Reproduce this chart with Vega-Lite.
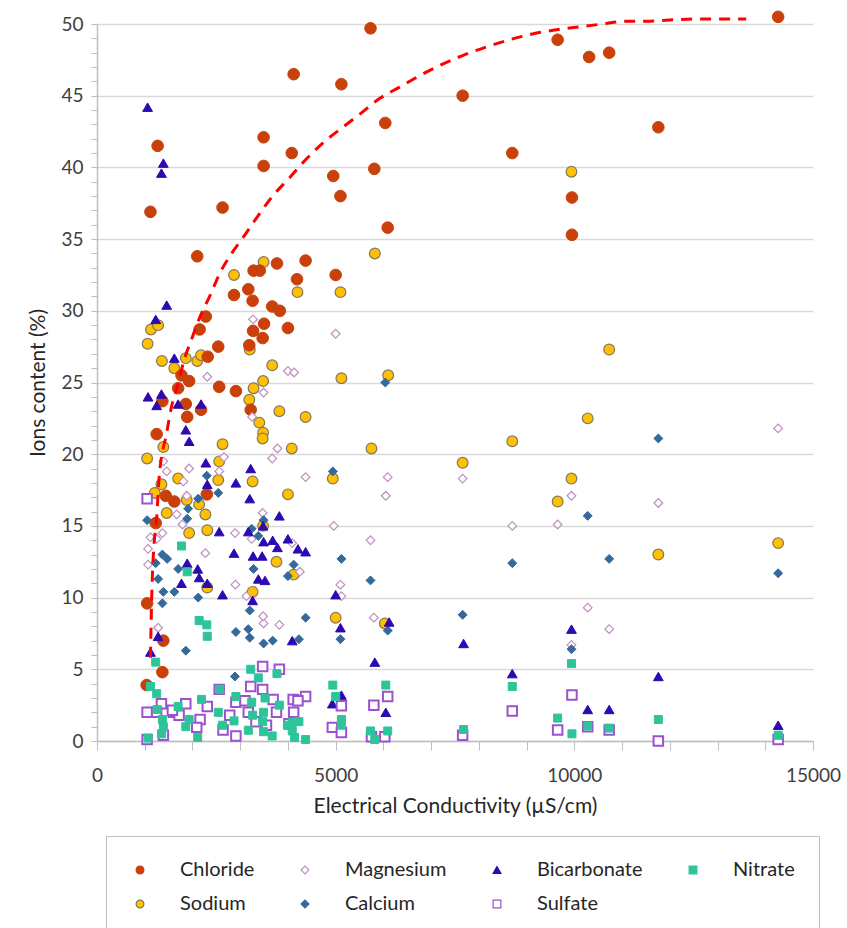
{
"$schema": "https://vega.github.io/schema/vega-lite/v6.json",
"autosize": {"type": "none"},
"width": 716, "height": 717,
"padding": {"left": 97, "top": 24, "right": 34, "bottom": 187},
"background": "white",
"config": {"font": "Lato", "view": {"stroke": null},
 "legend": {"orient": "none", "legendX": 9, "legendY": 812, "direction": "horizontal", "columns": 4, "strokeColor": "#BFBFBF", "padding": 24, "labelFontSize": 20, "labelColor": "#262626", "labelOffset": 30, "columnPadding": 40, "rowPadding": 14, "symbolSize": 60, "symbolStrokeWidth": 1.2, "labelLimit": 300}},
"datasets": {
"points": [
{"ion":"Sodium","ec":3490,"pct":33.4},{"ion":"Sodium","ec":2870,"pct":32.5},{"ion":"Sodium","ec":4200,"pct":31.3},{"ion":"Sodium","ec":1130,"pct":28.7},{"ion":"Sodium","ec":1280,"pct":29.0},{"ion":"Sodium","ec":1060,"pct":27.7},{"ion":"Sodium","ec":3200,"pct":27.3},{"ion":"Sodium","ec":1360,"pct":26.5},{"ion":"Sodium","ec":1860,"pct":26.7},{"ion":"Sodium","ec":2100,"pct":26.5},{"ion":"Sodium","ec":2180,"pct":26.9},{"ion":"Sodium","ec":1620,"pct":26.0},{"ion":"Sodium","ec":3670,"pct":26.2},{"ion":"Sodium","ec":3480,"pct":25.1},{"ion":"Sodium","ec":3280,"pct":24.6},{"ion":"Sodium","ec":3190,"pct":23.8},{"ion":"Sodium","ec":3820,"pct":23.0},{"ion":"Sodium","ec":3400,"pct":22.2},{"ion":"Sodium","ec":3480,"pct":21.5},{"ion":"Sodium","ec":3470,"pct":21.1},{"ion":"Sodium","ec":1390,"pct":20.5},{"ion":"Sodium","ec":2630,"pct":20.7},{"ion":"Sodium","ec":4080,"pct":20.4},{"ion":"Sodium","ec":1050,"pct":19.7},{"ion":"Sodium","ec":2560,"pct":19.5},{"ion":"Sodium","ec":1700,"pct":18.3},{"ion":"Sodium","ec":1350,"pct":17.9},{"ion":"Sodium","ec":2540,"pct":18.2},{"ion":"Sodium","ec":3260,"pct":18.1},{"ion":"Sodium","ec":4000,"pct":17.2},{"ion":"Sodium","ec":5820,"pct":34.0},{"ion":"Sodium","ec":5100,"pct":31.3},{"ion":"Sodium","ec":5120,"pct":25.3},{"ion":"Sodium","ec":6100,"pct":25.5},{"ion":"Sodium","ec":4370,"pct":22.6},{"ion":"Sodium","ec":5750,"pct":20.4},{"ion":"Sodium","ec":4940,"pct":18.3},{"ion":"Sodium","ec":9940,"pct":39.7},{"ion":"Sodium","ec":10280,"pct":22.5},{"ion":"Sodium","ec":8700,"pct":20.9},{"ion":"Sodium","ec":7660,"pct":19.4},{"ion":"Sodium","ec":9940,"pct":18.3},{"ion":"Sodium","ec":9650,"pct":16.7},{"ion":"Sodium","ec":5000,"pct":8.6},{"ion":"Sodium","ec":6030,"pct":8.2},{"ion":"Sodium","ec":11760,"pct":13.0},{"ion":"Sodium","ec":14270,"pct":13.8},{"ion":"Sodium","ec":10730,"pct":27.3},{"ion":"Sodium","ec":1210,"pct":17.3},{"ion":"Sodium","ec":1880,"pct":16.8},{"ion":"Sodium","ec":2140,"pct":16.5},{"ion":"Sodium","ec":1460,"pct":15.9},{"ion":"Sodium","ec":2270,"pct":15.8},{"ion":"Sodium","ec":1930,"pct":14.5},{"ion":"Sodium","ec":2310,"pct":14.7},{"ion":"Sodium","ec":3760,"pct":12.5},{"ion":"Sodium","ec":4120,"pct":11.6},{"ion":"Sodium","ec":2310,"pct":10.7},{"ion":"Sodium","ec":3260,"pct":10.4},{"ion":"Sodium","ec":3480,"pct":15.0},
{"ion":"Chloride","ec":1270,"pct":41.5},{"ion":"Chloride","ec":1120,"pct":36.9},{"ion":"Chloride","ec":4120,"pct":46.5},{"ion":"Chloride","ec":5120,"pct":45.8},{"ion":"Chloride","ec":3490,"pct":42.1},{"ion":"Chloride","ec":3490,"pct":40.1},{"ion":"Chloride","ec":4080,"pct":41.0},{"ion":"Chloride","ec":4950,"pct":39.4},{"ion":"Chloride","ec":5100,"pct":38.0},{"ion":"Chloride","ec":2630,"pct":37.2},{"ion":"Chloride","ec":2100,"pct":33.8},{"ion":"Chloride","ec":4370,"pct":33.5},{"ion":"Chloride","ec":5730,"pct":49.7},{"ion":"Chloride","ec":7660,"pct":45.0},{"ion":"Chloride","ec":6040,"pct":43.1},{"ion":"Chloride","ec":8700,"pct":41.0},{"ion":"Chloride","ec":5810,"pct":39.9},{"ion":"Chloride","ec":6090,"pct":35.8},{"ion":"Chloride","ec":9650,"pct":48.9},{"ion":"Chloride","ec":10310,"pct":47.7},{"ion":"Chloride","ec":10730,"pct":48.0},{"ion":"Chloride","ec":9950,"pct":37.9},{"ion":"Chloride","ec":9950,"pct":35.3},{"ion":"Chloride","ec":5000,"pct":32.5},{"ion":"Chloride","ec":11760,"pct":42.8},{"ion":"Chloride","ec":14270,"pct":50.5},{"ion":"Chloride","ec":3770,"pct":33.3},{"ion":"Chloride","ec":3280,"pct":32.8},{"ion":"Chloride","ec":3410,"pct":32.8},{"ion":"Chloride","ec":4190,"pct":32.2},{"ion":"Chloride","ec":3170,"pct":31.5},{"ion":"Chloride","ec":2870,"pct":31.1},{"ion":"Chloride","ec":3260,"pct":30.7},{"ion":"Chloride","ec":3670,"pct":30.3},{"ion":"Chloride","ec":3830,"pct":30.0},{"ion":"Chloride","ec":2280,"pct":29.6},{"ion":"Chloride","ec":3500,"pct":29.1},{"ion":"Chloride","ec":4000,"pct":28.8},{"ion":"Chloride","ec":2150,"pct":28.7},{"ion":"Chloride","ec":3270,"pct":28.6},{"ion":"Chloride","ec":3470,"pct":28.1},{"ion":"Chloride","ec":3190,"pct":27.6},{"ion":"Chloride","ec":2540,"pct":27.5},{"ion":"Chloride","ec":2320,"pct":26.8},{"ion":"Chloride","ec":1770,"pct":25.5},{"ion":"Chloride","ec":1930,"pct":25.1},{"ion":"Chloride","ec":1700,"pct":24.6},{"ion":"Chloride","ec":2560,"pct":24.7},{"ion":"Chloride","ec":2910,"pct":24.4},{"ion":"Chloride","ec":1370,"pct":23.7},{"ion":"Chloride","ec":1860,"pct":23.5},{"ion":"Chloride","ec":2180,"pct":23.1},{"ion":"Chloride","ec":3220,"pct":23.1},{"ion":"Chloride","ec":1890,"pct":22.6},{"ion":"Chloride","ec":1250,"pct":21.4},{"ion":"Chloride","ec":1440,"pct":17.1},{"ion":"Chloride","ec":1620,"pct":16.7},{"ion":"Chloride","ec":2300,"pct":17.2},{"ion":"Chloride","ec":1230,"pct":15.2},{"ion":"Chloride","ec":1050,"pct":9.6},{"ion":"Chloride","ec":1390,"pct":7.0},{"ion":"Chloride","ec":1370,"pct":4.8},{"ion":"Chloride","ec":1040,"pct":3.9},
{"ion":"Magnesium","ec":3270,"pct":29.4},{"ion":"Magnesium","ec":2310,"pct":25.4},{"ion":"Magnesium","ec":4000,"pct":25.8},{"ion":"Magnesium","ec":4130,"pct":25.7},{"ion":"Magnesium","ec":3490,"pct":24.3},{"ion":"Magnesium","ec":3250,"pct":22.6},{"ion":"Magnesium","ec":3780,"pct":20.4},{"ion":"Magnesium","ec":3670,"pct":19.7},{"ion":"Magnesium","ec":1390,"pct":19.5},{"ion":"Magnesium","ec":1460,"pct":18.8},{"ion":"Magnesium","ec":1930,"pct":19.0},{"ion":"Magnesium","ec":2560,"pct":18.8},{"ion":"Magnesium","ec":2660,"pct":19.8},{"ion":"Magnesium","ec":1810,"pct":18.1},{"ion":"Magnesium","ec":5000,"pct":28.4},{"ion":"Magnesium","ec":4370,"pct":18.4},{"ion":"Magnesium","ec":6090,"pct":18.4},{"ion":"Magnesium","ec":6050,"pct":17.1},{"ion":"Magnesium","ec":7660,"pct":18.3},{"ion":"Magnesium","ec":9940,"pct":17.1},{"ion":"Magnesium","ec":4960,"pct":15.0},{"ion":"Magnesium","ec":8700,"pct":15.0},{"ion":"Magnesium","ec":9650,"pct":15.1},{"ion":"Magnesium","ec":5730,"pct":14.0},{"ion":"Magnesium","ec":5100,"pct":10.9},{"ion":"Magnesium","ec":5120,"pct":10.1},{"ion":"Magnesium","ec":5800,"pct":8.6},{"ion":"Magnesium","ec":10280,"pct":9.3},{"ion":"Magnesium","ec":9940,"pct":6.7},{"ion":"Magnesium","ec":14270,"pct":21.8},{"ion":"Magnesium","ec":11760,"pct":16.6},{"ion":"Magnesium","ec":10730,"pct":7.8},{"ion":"Magnesium","ec":4090,"pct":13.8},{"ion":"Magnesium","ec":4250,"pct":11.8},{"ion":"Magnesium","ec":1880,"pct":17.1},{"ion":"Magnesium","ec":3470,"pct":15.9},{"ion":"Magnesium","ec":1370,"pct":14.5},{"ion":"Magnesium","ec":1120,"pct":14.2},{"ion":"Magnesium","ec":1250,"pct":14.1},{"ion":"Magnesium","ec":1670,"pct":15.8},{"ion":"Magnesium","ec":1790,"pct":15.1},{"ion":"Magnesium","ec":2890,"pct":14.5},{"ion":"Magnesium","ec":3240,"pct":14.1},{"ion":"Magnesium","ec":1070,"pct":13.4},{"ion":"Magnesium","ec":2270,"pct":13.1},{"ion":"Magnesium","ec":1070,"pct":12.3},{"ion":"Magnesium","ec":2900,"pct":10.9},{"ion":"Magnesium","ec":3130,"pct":10.1},{"ion":"Magnesium","ec":3490,"pct":8.2},{"ion":"Magnesium","ec":3820,"pct":8.1},{"ion":"Magnesium","ec":1280,"pct":7.9},{"ion":"Magnesium","ec":3480,"pct":8.7},
{"ion":"Calcium","ec":4940,"pct":18.8},{"ion":"Calcium","ec":6040,"pct":25.0},{"ion":"Calcium","ec":10280,"pct":15.7},{"ion":"Calcium","ec":5120,"pct":12.7},{"ion":"Calcium","ec":5730,"pct":11.2},{"ion":"Calcium","ec":8700,"pct":12.4},{"ion":"Calcium","ec":7660,"pct":8.8},{"ion":"Calcium","ec":5100,"pct":7.1},{"ion":"Calcium","ec":6090,"pct":7.7},{"ion":"Calcium","ec":9940,"pct":6.4},{"ion":"Calcium","ec":11760,"pct":21.1},{"ion":"Calcium","ec":10730,"pct":12.7},{"ion":"Calcium","ec":14270,"pct":11.7},{"ion":"Calcium","ec":4120,"pct":12.3},{"ion":"Calcium","ec":4370,"pct":8.6},{"ion":"Calcium","ec":4230,"pct":7.1},{"ion":"Calcium","ec":2540,"pct":17.3},{"ion":"Calcium","ec":1050,"pct":15.4},{"ion":"Calcium","ec":1910,"pct":16.2},{"ion":"Calcium","ec":1890,"pct":15.5},{"ion":"Calcium","ec":1370,"pct":13.0},{"ion":"Calcium","ec":1470,"pct":12.7},{"ion":"Calcium","ec":1230,"pct":12.4},{"ion":"Calcium","ec":1280,"pct":11.3},{"ion":"Calcium","ec":1700,"pct":12.0},{"ion":"Calcium","ec":1390,"pct":10.4},{"ion":"Calcium","ec":1620,"pct":10.4},{"ion":"Calcium","ec":1370,"pct":9.6},{"ion":"Calcium","ec":2120,"pct":10.0},{"ion":"Calcium","ec":3200,"pct":9.1},{"ion":"Calcium","ec":2910,"pct":7.6},{"ion":"Calcium","ec":3170,"pct":7.8},{"ion":"Calcium","ec":3200,"pct":7.2},{"ion":"Calcium","ec":3490,"pct":6.8},{"ion":"Calcium","ec":3680,"pct":7.0},{"ion":"Calcium","ec":1860,"pct":6.3},{"ion":"Calcium","ec":2890,"pct":4.5},{"ion":"Calcium","ec":3280,"pct":12.0},{"ion":"Calcium","ec":4000,"pct":11.5},{"ion":"Calcium","ec":3380,"pct":14.3},{"ion":"Calcium","ec":3240,"pct":14.8},{"ion":"Calcium","ec":3490,"pct":15.4},{"ion":"Calcium","ec":2300,"pct":18.5},{"ion":"Calcium","ec":2120,"pct":16.9},
{"ion":"Bicarbonate","ec":1060,"pct":44.2},{"ion":"Bicarbonate","ec":1390,"pct":40.3},{"ion":"Bicarbonate","ec":1350,"pct":39.6},{"ion":"Bicarbonate","ec":1460,"pct":30.4},{"ion":"Bicarbonate","ec":1230,"pct":29.4},{"ion":"Bicarbonate","ec":1620,"pct":26.7},{"ion":"Bicarbonate","ec":1070,"pct":24.0},{"ion":"Bicarbonate","ec":1350,"pct":24.2},{"ion":"Bicarbonate","ec":1250,"pct":23.4},{"ion":"Bicarbonate","ec":1700,"pct":23.5},{"ion":"Bicarbonate","ec":2180,"pct":23.5},{"ion":"Bicarbonate","ec":1860,"pct":21.7},{"ion":"Bicarbonate","ec":1930,"pct":20.9},{"ion":"Bicarbonate","ec":2280,"pct":19.4},{"ion":"Bicarbonate","ec":3220,"pct":19.0},{"ion":"Bicarbonate","ec":2310,"pct":17.9},{"ion":"Bicarbonate","ec":2910,"pct":18.0},{"ion":"Bicarbonate","ec":3200,"pct":16.9},{"ion":"Bicarbonate","ec":3820,"pct":15.7},{"ion":"Bicarbonate","ec":3480,"pct":15.0},{"ion":"Bicarbonate","ec":2560,"pct":14.6},{"ion":"Bicarbonate","ec":3170,"pct":14.6},{"ion":"Bicarbonate","ec":3490,"pct":13.9},{"ion":"Bicarbonate","ec":3680,"pct":14.0},{"ion":"Bicarbonate","ec":4000,"pct":14.1},{"ion":"Bicarbonate","ec":3780,"pct":13.5},{"ion":"Bicarbonate","ec":2870,"pct":13.1},{"ion":"Bicarbonate","ec":3270,"pct":12.9},{"ion":"Bicarbonate","ec":3460,"pct":12.9},{"ion":"Bicarbonate","ec":1890,"pct":12.4},{"ion":"Bicarbonate","ec":2110,"pct":12.0},{"ion":"Bicarbonate","ec":2140,"pct":11.4},{"ion":"Bicarbonate","ec":1770,"pct":11.0},{"ion":"Bicarbonate","ec":2310,"pct":11.0},{"ion":"Bicarbonate","ec":3380,"pct":11.3},{"ion":"Bicarbonate","ec":3520,"pct":11.2},{"ion":"Bicarbonate","ec":2630,"pct":10.2},{"ion":"Bicarbonate","ec":3260,"pct":9.8},{"ion":"Bicarbonate","ec":1280,"pct":7.3},{"ion":"Bicarbonate","ec":1120,"pct":6.2},{"ion":"Bicarbonate","ec":4090,"pct":7.0},{"ion":"Bicarbonate","ec":4210,"pct":13.4},{"ion":"Bicarbonate","ec":4370,"pct":13.2},{"ion":"Bicarbonate","ec":5000,"pct":10.2},{"ion":"Bicarbonate","ec":5100,"pct":7.9},{"ion":"Bicarbonate","ec":6120,"pct":8.3},{"ion":"Bicarbonate","ec":5820,"pct":5.5},{"ion":"Bicarbonate","ec":5120,"pct":3.2},{"ion":"Bicarbonate","ec":6050,"pct":2.0},{"ion":"Bicarbonate","ec":4930,"pct":2.6},{"ion":"Bicarbonate","ec":7680,"pct":6.8},{"ion":"Bicarbonate","ec":9940,"pct":7.8},{"ion":"Bicarbonate","ec":8700,"pct":4.7},{"ion":"Bicarbonate","ec":10280,"pct":2.2},{"ion":"Bicarbonate","ec":11760,"pct":4.5},{"ion":"Bicarbonate","ec":10730,"pct":2.2},{"ion":"Bicarbonate","ec":14270,"pct":1.1},
{"ion":"Sulfate","ec":1050,"pct":16.9},{"ion":"Sulfate","ec":3470,"pct":5.2},{"ion":"Sulfate","ec":3820,"pct":5.0},{"ion":"Sulfate","ec":3220,"pct":3.8},{"ion":"Sulfate","ec":3470,"pct":3.6},{"ion":"Sulfate","ec":2560,"pct":3.6},{"ion":"Sulfate","ec":2910,"pct":2.7},{"ion":"Sulfate","ec":3100,"pct":2.8},{"ion":"Sulfate","ec":3690,"pct":2.9},{"ion":"Sulfate","ec":4110,"pct":2.9},{"ion":"Sulfate","ec":1350,"pct":2.6},{"ion":"Sulfate","ec":1860,"pct":2.6},{"ion":"Sulfate","ec":2310,"pct":2.4},{"ion":"Sulfate","ec":1050,"pct":2.0},{"ion":"Sulfate","ec":1250,"pct":2.0},{"ion":"Sulfate","ec":1600,"pct":2.0},{"ion":"Sulfate","ec":2160,"pct":1.5},{"ion":"Sulfate","ec":1720,"pct":1.8},{"ion":"Sulfate","ec":2780,"pct":1.8},{"ion":"Sulfate","ec":3170,"pct":2.0},{"ion":"Sulfate","ec":3760,"pct":2.0},{"ion":"Sulfate","ec":4020,"pct":1.2},{"ion":"Sulfate","ec":3550,"pct":1.1},{"ion":"Sulfate","ec":2090,"pct":0.95},{"ion":"Sulfate","ec":1390,"pct":0.4},{"ion":"Sulfate","ec":2910,"pct":0.35},{"ion":"Sulfate","ec":3330,"pct":1.35},{"ion":"Sulfate","ec":4370,"pct":3.1},{"ion":"Sulfate","ec":4210,"pct":2.8},{"ion":"Sulfate","ec":4120,"pct":2.0},{"ion":"Sulfate","ec":5120,"pct":2.45},{"ion":"Sulfate","ec":5800,"pct":2.5},{"ion":"Sulfate","ec":6090,"pct":3.1},{"ion":"Sulfate","ec":4930,"pct":0.95},{"ion":"Sulfate","ec":5120,"pct":0.6},{"ion":"Sulfate","ec":5750,"pct":0.3},{"ion":"Sulfate","ec":6030,"pct":0.3},{"ion":"Sulfate","ec":7660,"pct":0.4},{"ion":"Sulfate","ec":8700,"pct":2.1},{"ion":"Sulfate","ec":9950,"pct":3.2},{"ion":"Sulfate","ec":9650,"pct":0.77},{"ion":"Sulfate","ec":10280,"pct":1.0},{"ion":"Sulfate","ec":11760,"pct":0.0},{"ion":"Sulfate","ec":14270,"pct":0.1},{"ion":"Sulfate","ec":10730,"pct":0.77},{"ion":"Sulfate","ec":2640,"pct":0.77},{"ion":"Sulfate","ec":1580,"pct":2.15},{"ion":"Sulfate","ec":1050,"pct":0.1},
{"ion":"Nitrate","ec":1770,"pct":13.6},{"ion":"Nitrate","ec":1890,"pct":11.8},{"ion":"Nitrate","ec":2140,"pct":8.4},{"ion":"Nitrate","ec":2300,"pct":8.1},{"ion":"Nitrate","ec":2310,"pct":7.3},{"ion":"Nitrate","ec":1230,"pct":5.5},{"ion":"Nitrate","ec":1120,"pct":3.8},{"ion":"Nitrate","ec":1250,"pct":3.3},{"ion":"Nitrate","ec":2570,"pct":3.6},{"ion":"Nitrate","ec":3220,"pct":5.0},{"ion":"Nitrate","ec":3380,"pct":4.4},{"ion":"Nitrate","ec":3770,"pct":4.7},{"ion":"Nitrate","ec":2910,"pct":3.1},{"ion":"Nitrate","ec":3240,"pct":2.7},{"ion":"Nitrate","ec":3520,"pct":3.0},{"ion":"Nitrate","ec":3820,"pct":2.5},{"ion":"Nitrate","ec":1700,"pct":2.4},{"ion":"Nitrate","ec":2190,"pct":2.9},{"ion":"Nitrate","ec":1370,"pct":1.5},{"ion":"Nitrate","ec":1260,"pct":2.2},{"ion":"Nitrate","ec":1930,"pct":1.5},{"ion":"Nitrate","ec":2540,"pct":2.0},{"ion":"Nitrate","ec":2630,"pct":1.1},{"ion":"Nitrate","ec":2870,"pct":1.4},{"ion":"Nitrate","ec":3170,"pct":0.75},{"ion":"Nitrate","ec":3260,"pct":1.8},{"ion":"Nitrate","ec":3490,"pct":2.0},{"ion":"Nitrate","ec":3470,"pct":1.35},{"ion":"Nitrate","ec":3490,"pct":0.65},{"ion":"Nitrate","ec":3670,"pct":0.35},{"ion":"Nitrate","ec":1860,"pct":1.0},{"ion":"Nitrate","ec":2110,"pct":0.25},{"ion":"Nitrate","ec":1070,"pct":0.2},{"ion":"Nitrate","ec":1350,"pct":0.5},{"ion":"Nitrate","ec":1390,"pct":1.0},{"ion":"Nitrate","ec":4090,"pct":1.3},{"ion":"Nitrate","ec":4140,"pct":0.25},{"ion":"Nitrate","ec":4940,"pct":3.9},{"ion":"Nitrate","ec":5000,"pct":3.1},{"ion":"Nitrate","ec":5120,"pct":1.5},{"ion":"Nitrate","ec":5120,"pct":1.1},{"ion":"Nitrate","ec":6050,"pct":3.9},{"ion":"Nitrate","ec":5730,"pct":0.7},{"ion":"Nitrate","ec":5820,"pct":0.1},{"ion":"Nitrate","ec":6090,"pct":0.7},{"ion":"Nitrate","ec":4230,"pct":1.35},{"ion":"Nitrate","ec":4090,"pct":0.7},{"ion":"Nitrate","ec":4370,"pct":0.1},{"ion":"Nitrate","ec":7680,"pct":0.8},{"ion":"Nitrate","ec":8700,"pct":3.8},{"ion":"Nitrate","ec":9940,"pct":5.4},{"ion":"Nitrate","ec":9650,"pct":1.6},{"ion":"Nitrate","ec":9950,"pct":0.5},{"ion":"Nitrate","ec":10280,"pct":1.05},{"ion":"Nitrate","ec":10730,"pct":0.9},{"ion":"Nitrate","ec":11760,"pct":1.5},{"ion":"Nitrate","ec":14270,"pct":0.4},{"ion":"Nitrate","ec":4000,"pct":1.1}
],
"trend": [
{"ec":1120,"pct":5.8},{"ec":1135,"pct":8.5},{"ec":1160,"pct":11.5},{"ec":1190,"pct":13.5},{"ec":1250,"pct":15.5},{"ec":1300,"pct":18.3},{"ec":1460,"pct":21.5},{"ec":1560,"pct":23.3},{"ec":1700,"pct":24.9},{"ec":1810,"pct":26.4},{"ec":1980,"pct":28.0},{"ec":2160,"pct":29.6},{"ec":2360,"pct":31.0},{"ec":2570,"pct":32.6},{"ec":2820,"pct":34.0},{"ec":3080,"pct":35.2},{"ec":3410,"pct":36.8},{"ec":3680,"pct":38.0},{"ec":4040,"pct":39.3},{"ec":4390,"pct":40.6},{"ec":4730,"pct":41.7},{"ec":5150,"pct":42.8},{"ec":5500,"pct":43.7},{"ec":5920,"pct":44.8},{"ec":6340,"pct":45.6},{"ec":6760,"pct":46.4},{"ec":7240,"pct":47.2},{"ec":7660,"pct":47.8},{"ec":8160,"pct":48.4},{"ec":8640,"pct":48.9},{"ec":9120,"pct":49.3},{"ec":9620,"pct":49.6},{"ec":10100,"pct":49.8},{"ec":10590,"pct":50.0},{"ec":11090,"pct":50.2},{"ec":11570,"pct":50.2},{"ec":12130,"pct":50.3},{"ec":12610,"pct":50.35},{"ec":13090,"pct":50.35},{"ec":13600,"pct":50.35}
]
},
"encoding": {
"x": {"field": "ec", "type": "quantitative", "scale": {"domain": [0, 15000], "nice": false},
 "axis": {"values": [0,1000,2000,3000,4000,5000,6000,7000,8000,9000,10000,11000,12000,13000,14000,15000], "format": "d", "labelExpr": "datum.value % 5000 === 0 ? datum.label : ''", "labelOverlap": false, "grid": false, "tickSize": 9, "tickColor": "#BFBFBF", "domainColor": "#BFBFBF", "domainWidth": 1.5, "labelFontSize": 19, "labelColor": "#404040", "labelPadding": 16, "labelFlush": false, "title": "Electrical Conductivity (µS/cm)", "titleFontSize": 21, "titleFontWeight": "normal", "titleColor": "#262626", "titlePadding": 10}},
"y": {"field": "pct", "type": "quantitative", "scale": {"domain": [0, 50], "nice": false},
 "axis": {"values": [0,1,2,3,4,5,6,7,8,9,10,11,12,13,14,15,16,17,18,19,20,21,22,23,24,25,26,27,28,29,30,31,32,33,34,35,36,37,38,39,40,41,42,43,44,45,46,47,48,49,50], "labelExpr": "datum.value % 5 === 0 ? datum.label : ''", "labelOverlap": false, "grid": true, "gridColor": {"condition": {"test": "datum.value % 5 === 0", "value": "#D9D9D9"}, "value": "rgba(255,255,255,0)"}, "gridWidth": 1.5, "tickSize": 6, "tickColor": "#BFBFBF", "domainColor": "#BFBFBF", "domainWidth": 1.5, "labelFontSize": 19, "labelColor": "#404040", "labelPadding": 8, "labelFlush": false, "title": "Ions content (%)", "titleFontSize": 21, "titleFontWeight": "normal", "titleColor": "#262626", "titlePadding": 12}}
},
"layer": [
{
"data": {"name": "points"},
"encoding": {
"shape": {"field": "ion", "type": "nominal",
 "scale": {"domain": ["Chloride","Magnesium","Bicarbonate","Nitrate","Sodium","Calcium","Sulfate"], "range": ["circle","diamond","triangle-up","square","circle","diamond","square"]}, "legend": {"title": null}},
"fill": {"field": "ion", "type": "nominal",
 "scale": {"domain": ["Chloride","Magnesium","Bicarbonate","Nitrate","Sodium","Calcium","Sulfate"], "range": ["#C9400A","#FFFFFF","#2C09B0","#2EC49A","#FFC000","#35699A","#FFFFFF"]}, "legend": {"title": null}},
"stroke": {"field": "ion", "type": "nominal",
 "scale": {"domain": ["Chloride","Magnesium","Bicarbonate","Nitrate","Sodium","Calcium","Sulfate"], "range": ["#C9400A","#BF8FBF","#2C09B0","#2EC49A","#85785A","#35699A","#9B51D0"]}, "legend": {"title": null}}
},
"layer": [
{"transform": [{"filter": "datum.ion === 'Sodium'"}], "mark": {"type": "point", "opacity": 1, "size": 115, "strokeWidth": 1.2}},
{"transform": [{"filter": "datum.ion === 'Chloride'"}], "mark": {"type": "point", "opacity": 1, "size": 135, "strokeWidth": 1}},
{"transform": [{"filter": "datum.ion === 'Magnesium'"}], "mark": {"type": "point", "opacity": 1, "size": 75, "strokeWidth": 1.2}},
{"transform": [{"filter": "datum.ion === 'Calcium'"}], "mark": {"type": "point", "opacity": 1, "size": 80, "strokeWidth": 1}},
{"transform": [{"filter": "datum.ion === 'Bicarbonate'"}], "mark": {"type": "point", "opacity": 1, "size": 95, "strokeWidth": 1}},
{"transform": [{"filter": "datum.ion === 'Sulfate'"}], "mark": {"type": "point", "opacity": 1, "size": 90, "strokeWidth": 2}},
{"transform": [{"filter": "datum.ion === 'Nitrate'"}], "mark": {"type": "point", "opacity": 1, "size": 64, "strokeWidth": 1}}
]
},
{
"data": {"name": "trend"},
"mark": {"type": "line", "color": "#FF0000", "strokeWidth": 3, "strokeDash": [11, 8], "interpolate": "monotone"},
"encoding": {}
}
]
}
